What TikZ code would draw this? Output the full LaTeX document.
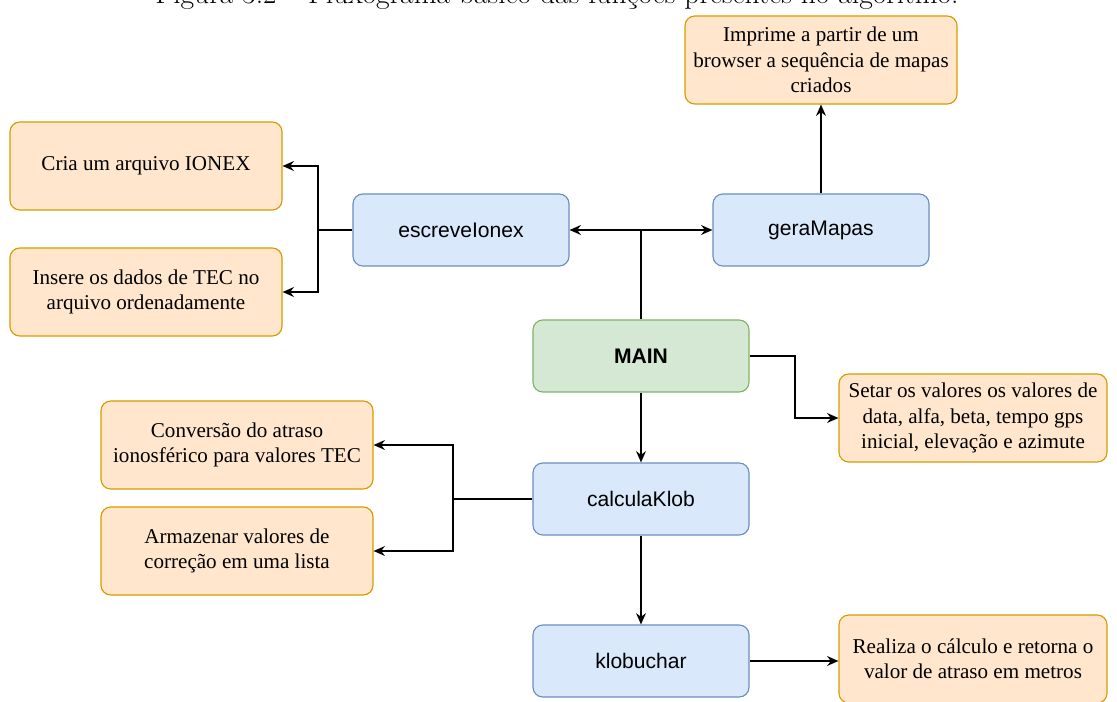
\documentclass[tikz,border=0pt]{standalone}
\usepackage{fontspec}
\newfontfamily\descfont{Liberation Serif}
\newfontfamily\funcfont{Liberation Sans}
\usetikzlibrary{arrows.meta}
\definecolor{descfill}{HTML}{FFE6CC}
\definecolor{descdraw}{HTML}{D79B00}
\definecolor{funcfill}{HTML}{DAE8FC}
\definecolor{funcdraw}{HTML}{6C8EBF}
\definecolor{mainfill}{HTML}{D5E8D4}
\definecolor{maindraw}{HTML}{82B366}
\begin{document}
\begin{tikzpicture}[x=0.025cm,y=-0.025cm,
  desc/.style={draw=descdraw,fill=descfill,line width=0.8pt,rounded corners=7pt,
    minimum width=6.8cm,minimum height=2.2cm,align=center,inner sep=2pt,
    font=\descfont\fontsize{15}{18}\selectfont},
  func/.style={draw=funcdraw,fill=funcfill,line width=0.8pt,rounded corners=7pt,
    minimum width=5.4cm,minimum height=1.8cm,
    font=\funcfont\fontsize{15}{18}\selectfont},
  mainbox/.style={func,draw=maindraw,fill=mainfill,
    font=\funcfont\bfseries\fontsize{15}{18}\selectfont},
  link/.style={line width=1.1pt,-{Stealth[length=8pt,width=7pt]}}]
  \useasboundingbox (0,0) rectangle (1117,702);
  \node[anchor=base,font=\fontsize{21}{24}\selectfont] (caption) at (557,4)
    {Figura 3.2 -- Fluxograma básico das funções presentes no algoritmo.};

  \node[mainbox] (main) at (641,356) {MAIN};
  \node[func] (escreve) at (461,230) {escreveIonex};
  \node[func] (gera) at (821,230) {geraMapas};
  \node[func] (calcula) at (641,499) {calculaKlob};
  \node[func] (klob) at (641,661) {klobuchar};

  \node[desc] (imprime) at (821,60) {Imprime a partir de um\\browser a sequência de mapas\\criados};
  \node[desc] (cria) at (146,166) {Cria um arquivo IONEX};
  \node[desc] (insere) at (146,292) {Insere os dados de TEC no\\arquivo ordenadamente};
  \node[desc,minimum width=6.7cm] (setar) at (973,418) {Setar os valores os valores de\\data, alfa, beta, tempo gps\\inicial, elevação e azimute};
  \node[desc] (conversao) at (237,445) {Conversão do atraso\\ionosférico para valores TEC};
  \node[desc] (armazena) at (237,551) {Armazenar valores de\\correção em uma lista};
  \node[desc,minimum width=6.7cm] (realiza) at (973,659) {Realiza o cálculo e retorna o\\valor de atraso em metros};

  \coordinate (top) at (641,230);
  \coordinate (left1) at (318,230);
  \coordinate (left2) at (453,499);
  \coordinate (right1) at (795,356);

  \draw[line width=1.1pt] (main.north) -- (top);
  \draw[link] (top) -- (escreve.east);
  \draw[link] (top) -- (gera.west);
  \draw[link] (gera.north) -- (imprime.south);
  \draw[line width=1.1pt] (escreve.west) -- (left1);
  \draw[link] (left1) |- (cria.east);
  \draw[link] (left1) |- (insere.east);
  \draw[link] (main.east) -- (right1) |- (setar.west);
  \draw[link] (main.south) -- (calcula.north);
  \draw[line width=1.1pt] (calcula.west) -- (left2);
  \draw[link] (left2) |- (conversao.east);
  \draw[link] (left2) |- (armazena.east);
  \draw[link] (calcula.south) -- (klob.north);
  \draw[link] (klob.east) -- (klob.east -| realiza.west);
\end{tikzpicture}
\end{document}
